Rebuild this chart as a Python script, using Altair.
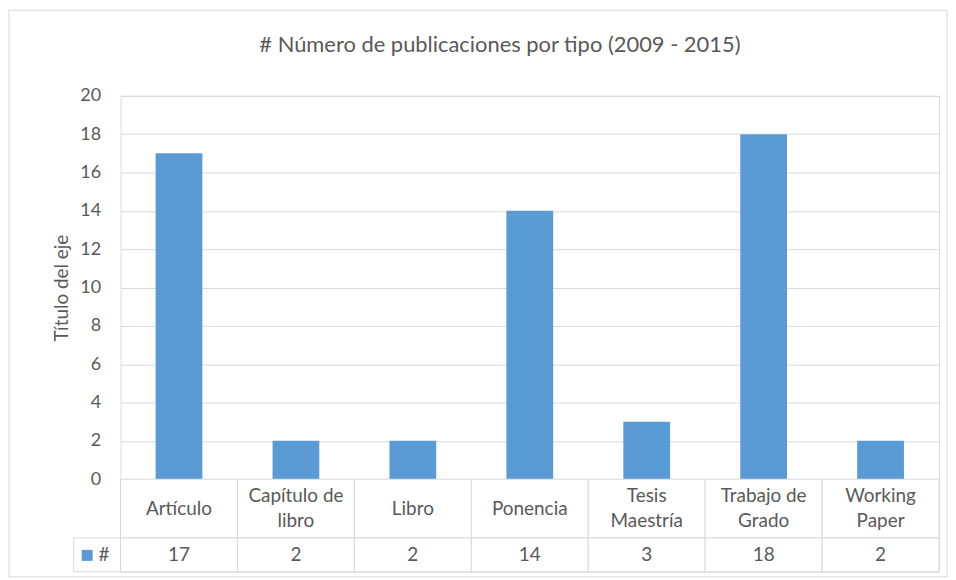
import altair as alt
import pandas as pd

categorias = ["Artículo", "Capítulo de\nlibro", "Libro", "Ponencia", "Tesis\nMaestría", "Trabajo de\nGrado", "Working\nPaper"]
valores = [17, 2, 2, 14, 3, 18, 2]
serie = "#"
ticks_y = [0, 2, 4, 6, 8, 10, 12, 14, 16, 18, 20]

FONT = "Lato"
GRAY = "#595959"
LINE = "#d9d9d9"
BLUE = "#5b9bd5"

df = pd.DataFrame({"cat": categorias, "val": valores, "serie": serie,
                   "fila1": "c", "fila2": "v", "txt": [str(v) for v in valores]})

W = 822

xsc = alt.Scale(domain=categorias, paddingInner=0.6, paddingOuter=0.3)
xtab = alt.Scale(domain=categorias, paddingInner=0, paddingOuter=0)

border = alt.Chart(alt.Data(values=[{}])).mark_rect(
    fill="white", fillOpacity=0, stroke=LINE, strokeWidth=1
).encode(x=alt.value(-112), x2=alt.value(830), y=alt.value(-86), y2=alt.value(483))

bars = alt.Chart(df).mark_bar().encode(
    x=alt.X("cat:N", scale=xsc, axis=None, sort=categorias),
    y=alt.Y("val:Q", scale=alt.Scale(domain=[0, 20], nice=False),
            axis=alt.Axis(values=ticks_y, grid=True, gridColor=LINE, domain=False,
                          ticks=False, tickSize=0, labelPadding=20, labelFontSize=18,
                          labelColor=GRAY, labelFont=FONT, title="Título del eje",
                          titleFontSize=19, titleFont=FONT, titleFontWeight="normal",
                          titleColor=GRAY, titlePadding=8)),
    color=alt.Color("serie:N", scale=alt.Scale(range=[BLUE]),
                    legend=alt.Legend(orient="none", legendX=-43, legendY=452, title=None,
                                      symbolType="square", symbolSize=121, symbolStrokeWidth=0,
                                      labelFontSize=19, labelFont=FONT, labelColor=GRAY,
                                      labelOffset=2)),
)

top = alt.layer(border, bars).properties(width=W, height=385)

row1_base = alt.Chart(df).encode(
    x=alt.X("cat:N", scale=xtab, axis=None, sort=categorias),
    y=alt.Y("fila1:N", axis=None, scale=alt.Scale(paddingInner=0, paddingOuter=0)),
)
multi = "indexof(datum.cat, '\\n') >= 0"
row1 = alt.layer(
    row1_base.mark_rect(fill="white", stroke=LINE, strokeWidth=1),
    row1_base.mark_text(fontSize=19, font=FONT, color=GRAY).encode(text="cat:N")
        .transform_filter("!(" + multi + ")"),
    row1_base.mark_text(lineBreak="\n", lineHeight=26, dy=-13, fontSize=19, font=FONT, color=GRAY)
        .encode(text="cat:N").transform_filter(multi),
).properties(width=W, height=59)

row2_base = alt.Chart(df).encode(
    x=alt.X("cat:N", scale=xtab, axis=None, sort=categorias),
    y=alt.Y("fila2:N", axis=None, scale=alt.Scale(paddingInner=0, paddingOuter=0)),
)
legend_cell = alt.Chart(alt.Data(values=[{}])).mark_rect(
    fill="white", stroke=LINE, strokeWidth=1
).encode(x=alt.value(-47), x2=alt.value(0), y=alt.value(0), y2=alt.value(34))
row2 = alt.layer(
    legend_cell,
    row2_base.mark_rect(fill="white", stroke=LINE, strokeWidth=1),
    row2_base.mark_text(fontSize=19, font=FONT, color=GRAY).encode(text="txt:N"),
).properties(width=W, height=34)

chart = alt.vconcat(top, row1, row2, spacing=0, bounds="flush").properties(
    title=alt.Title("# Número de publicaciones por tipo (2009 - 2015)", fontSize=22,
                    font=FONT, color=GRAY, fontWeight="normal", frame="group",
                    anchor="middle", offset=-48, dx=-30),
    padding=0,
).configure_view(stroke=None).configure(background="white")

chart.save("out.html", embed_options={"renderer": "svg", "actions": False})
